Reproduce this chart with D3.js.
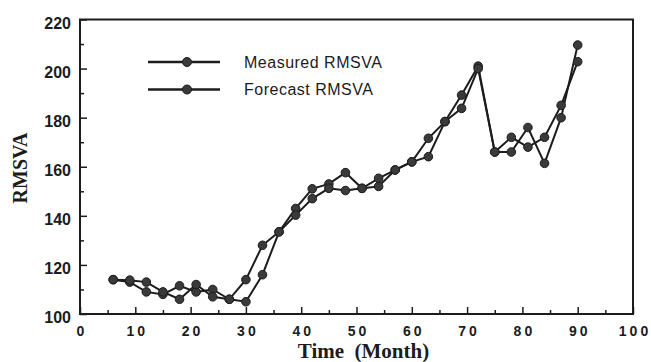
<!DOCTYPE html>
<html>
<head>
<meta charset="utf-8">
<script src="https://cdn.jsdelivr.net/npm/d3@7"></script>
<style>
	body { margin: 0; background: #fff; }
	svg { display: block; }
</style>
</head>
<body>
<div id="chart"></div>
<script>
const months = [6, 9, 12, 15, 18, 21, 24, 27, 30, 33, 36, 39, 42, 45, 48, 51, 54, 57, 60, 63, 66, 69, 72, 75, 78, 81, 84, 87, 90];
const measured = [114, 113, 109, 108, 111.5, 109, 110, 106, 114, 128, 133.5, 143, 151, 153, 157.6, 151.2, 152, 158.7, 162, 171.6, 178.4, 189.2, 201, 166, 166, 176, 161.4, 180, 209.6];
const forecast = [114, 113.8, 113, 109, 106, 112, 107, 106, 105, 116, 133.5, 140.3, 147, 151.2, 150.3, 151.2, 155.3, 158.7, 162, 164.1, 178.4, 183.8, 200, 166, 172, 168, 172, 185, 202.8];
const seriesNames = ['Measured RMSVA', 'Forecast RMSVA'];
const xTicks = [0, 10, 20, 30, 40, 50, 60, 70, 80, 90, 100];
const yTicks = [100, 120, 140, 160, 180, 200, 220];

const width = 651;
const height = 362;
const margin = { top: 19.5, right: 18, bottom: 48, left: 80 };
const innerW = width - margin.left - margin.right;
const innerH = height - margin.top - margin.bottom;
const ink = '#1c1c1c';

const svg = d3
	.select('#chart')
	.append('svg')
	.attr('width', width)
	.attr('height', height);

const g = svg.append('g').attr('transform', `translate(${margin.left},${margin.top})`);

const xScale = d3.scaleLinear().domain([0, 100]).range([0, innerW]);
const yScale = d3.scaleLinear().domain([100, 220]).range([innerH, 0]);

// minor ticks first, majors on top
g.append('g')
	.attr('transform', `translate(0,${innerH})`)
	.call(d3.axisBottom(xScale).tickValues(d3.range(5, 100, 10)).tickSize(-4).tickFormat(''))
	.call((a) => a.select('.domain').remove())
	.call((a) => a.selectAll('line').attr('stroke', ink).attr('stroke-width', 1.5));

g.append('g')
	.attr('transform', `translate(0,${innerH})`)
	.call(d3.axisBottom(xScale).tickValues(xTicks).tickSize(-7).tickPadding(12))
	.call((a) => a.select('.domain').remove())
	.call((a) => a.selectAll('line').attr('stroke', ink).attr('stroke-width', 1.5))
	.call((a) =>
		a
			.selectAll('text')
			.attr('fill', ink)
			.attr('dx', '1.5px')
			.style('font-family', '"Liberation Sans", Arial, sans-serif')
			.style('font-weight', 'bold')
			.style('font-size', '14px')
			.style('letter-spacing', '3px')
	);

g.append('g')
	.call(d3.axisLeft(yScale).tickValues(d3.range(110, 220, 20)).tickSize(-4).tickFormat(''))
	.call((a) => a.select('.domain').remove())
	.call((a) => a.selectAll('line').attr('stroke', ink).attr('stroke-width', 1.5));

g.append('g')
	.call(d3.axisLeft(yScale).tickValues(yTicks).tickSize(-7).tickPadding(9))
	.call((a) => a.select('.domain').remove())
	.call((a) => a.selectAll('line').attr('stroke', ink).attr('stroke-width', 1.5))
	.call((a) =>
		a
			.selectAll('text')
			.attr('fill', ink)
			.attr('dy', '0.55em')
			.style('font-family', '"Liberation Sans", Arial, sans-serif')
			.style('font-weight', 'bold')
			.style('font-size', '16px')
	);

// frame
g.append('rect')
	.attr('x', 0)
	.attr('y', 0)
	.attr('width', innerW)
	.attr('height', innerH)
	.attr('fill', 'none')
	.attr('stroke', ink)
	.attr('stroke-width', 2);

const line = d3
	.line()
	.x((d) => xScale(d[0]))
	.y((d) => yScale(d[1]));

[measured, forecast].forEach((values, i) => {
	const data = months.map((m, j) => [m, values[j]]);

	g.append('path')
		.datum(data)
		.attr('fill', 'none')
		.attr('stroke', ink)
		.attr('stroke-width', 2)
		.attr('d', line);

	g.selectAll(`.dot-${i}`)
		.data(data)
		.enter()
		.append('circle')
		.attr('class', `dot-${i}`)
		.attr('cx', (d) => xScale(d[0]))
		.attr('cy', (d) => yScale(d[1]))
		.attr('r', 4.3)
		.attr('fill', '#3a3a3a')
		.attr('stroke', ink)
		.attr('stroke-width', 1);
});

// legend
const legend = svg.append('g').attr('transform', 'translate(148,62)');
seriesNames.forEach((name, i) => {
	const row = legend.append('g').attr('transform', `translate(0,${i * 27.5})`);
	row.append('line').attr('x1', 0).attr('x2', 72).attr('stroke', ink).attr('stroke-width', 2.5);
	row.append('circle').attr('cx', 39).attr('r', 4.5).attr('fill', '#3a3a3a').attr('stroke', ink);
	row.append('text')
		.attr('x', 96)
		.attr('dy', '0.36em')
		.attr('fill', ink)
		.style('font-family', '"Liberation Sans", Arial, sans-serif')
		.style('font-size', '16px')
		.style('letter-spacing', '0.5px')
		.text(name);
});

svg.append('text')
	.attr('x', margin.left + innerW / 2 + 7)
	.attr('y', 358)
	.attr('text-anchor', 'middle')
	.attr('fill', ink)
	.style('font-family', '"Liberation Serif", "Times New Roman", serif')
	.style('font-weight', 'bold')
	.style('font-size', '21px')
	.style('white-space', 'pre')
	.text('Time  (Month)');

svg.append('text')
	.attr('transform', 'translate(27,168) rotate(-90)')
	.attr('text-anchor', 'middle')
	.attr('fill', ink)
	.style('font-family', '"Liberation Serif", "Times New Roman", serif')
	.style('font-weight', 'bold')
	.style('font-size', '20px')
	.text('RMSVA');
</script>
</body>
</html>
